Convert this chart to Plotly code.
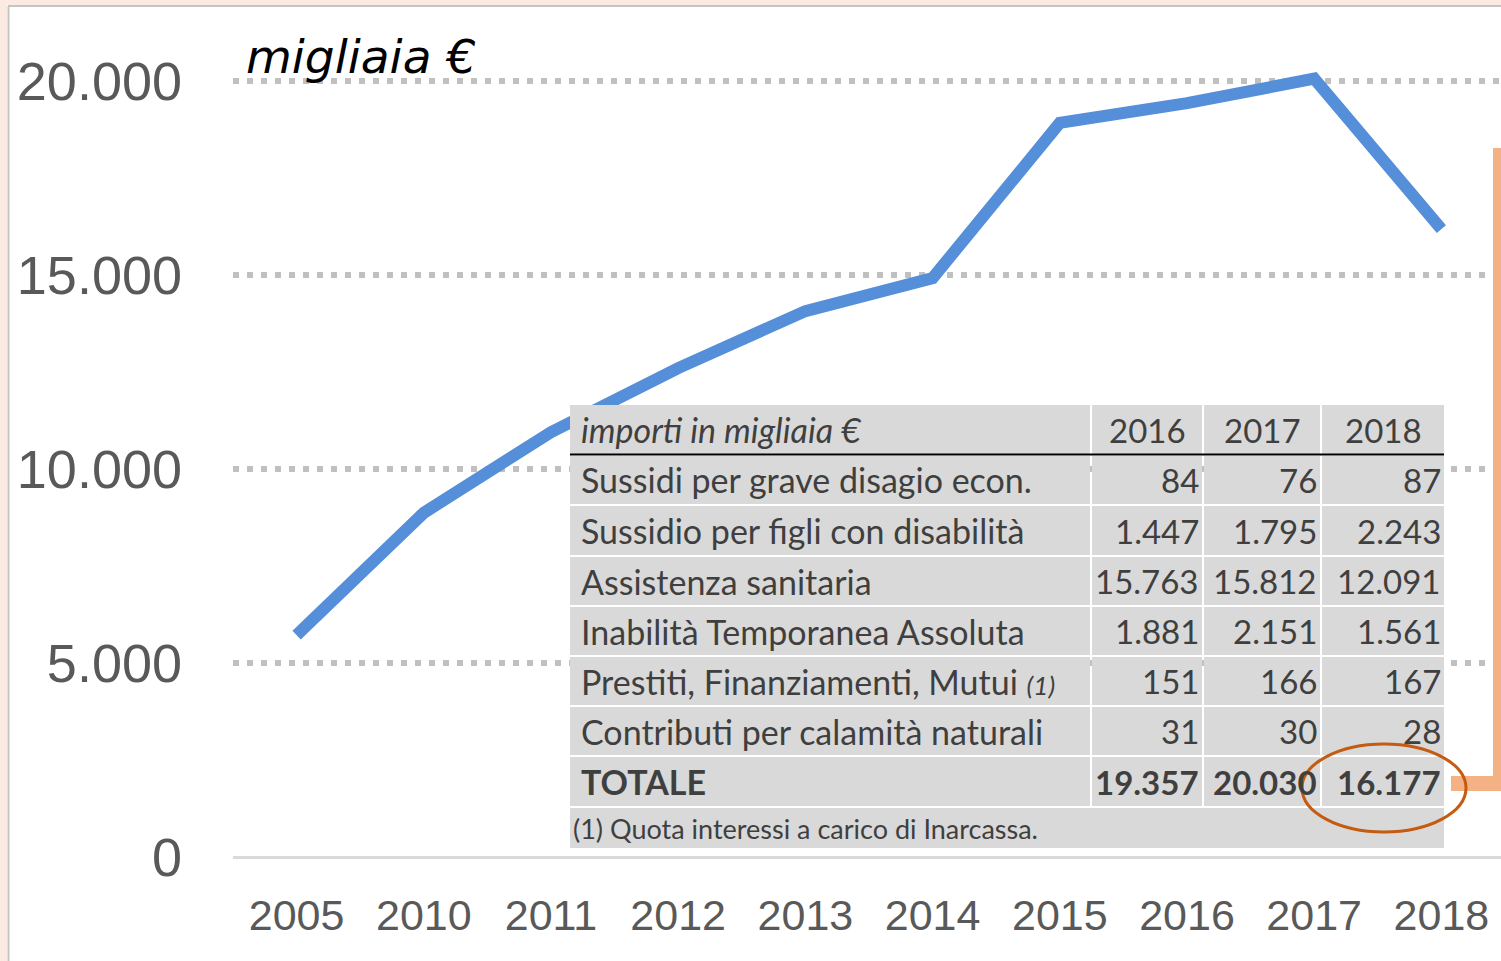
import plotly.graph_objects as go

# ---------------- data ----------------
years = ["2005", "2010", "2011", "2012", "2013", "2014", "2015", "2016", "2017", "2018"]
totals = [5720, 8870, 10950, 12600, 14070, 14920, 18920, 19430, 20060, 16180]

y_ticks = [0, 5000, 10000, 15000, 20000]
y_tick_labels = ["0", "5.000", "10.000", "15.000", "20.000"]

table_title = "importi in migliaia €"
table_years = ["2016", "2017", "2018"]
row_labels = [
    "Sussidi per grave disagio econ.",
    "Sussidio per figli con disabilità",
    "Assistenza sanitaria",
    "Inabilità Temporanea Assoluta",
    "Prestiti, Finanziamenti, Mutui",
    "Contributi per calamità naturali",
    "TOTALE",
]
vals_2016 = [84, 1447, 15763, 1881, 151, 31, 19357]
vals_2017 = [76, 1795, 15812, 2151, 166, 30, 20030]
vals_2018 = [87, 2243, 12091, 1561, 167, 28, 16177]
footnote = "(1) Quota interessi a carico di Inarcassa."

# ---------------- geometry helpers ----------------
W, H = 1501, 961


def px(x):
    return x / W


def py(y):
    return 1 - y / H


def fmt(v):
    return f"{v:,}".replace(",", ".")


fig = go.Figure()
fig.add_trace(go.Scatter(
    x=years, y=totals, mode="lines",
    line=dict(color="#558ED9", width=12),
    hoverinfo="skip", showlegend=False,
))

shapes = []
annotations = []

# outer frame (peach strips + gray border)
shapes.append(dict(type="rect", xref="paper", yref="paper", x0=0, x1=1, y0=py(5), y1=1,
                   fillcolor="#FBEAE1", line_width=0, layer="below"))
shapes.append(dict(type="rect", xref="paper", yref="paper", x0=0, x1=px(7), y0=0, y1=1,
                   fillcolor="#FBEAE1", line_width=0, layer="below"))
shapes.append(dict(type="line", xref="paper", yref="paper", x0=px(8), x1=1, y0=py(6), y1=py(6),
                   line=dict(color="#C4C4C4", width=2), layer="below"))
shapes.append(dict(type="line", xref="paper", yref="paper", x0=px(8.5), x1=px(8.5), y0=0, y1=py(6),
                   line=dict(color="#C4C4C4", width=2), layer="below"))

# table geometry (pixels)
cols = [(570, 1090), (1092, 1202), (1204, 1320), (1322, 1444)]
header_rows = (405, 454)
rows = [(456, 504), (506, 555), (557, 605), (607, 655), (657, 705), (707, 755), (757, 806)]
foot_row = (808, 848)
cell_fill = "#D9D9D9"
txt_col = "#3F3F3F"
tfont = "Lato"
tsize = 34
nsize = 33


def cell(x0, x1, y0, y1):
    shapes.append(dict(type="rect", xref="paper", yref="paper",
                       x0=px(x0), x1=px(x1), y0=py(y1), y1=py(y0),
                       fillcolor=cell_fill, line_width=0, layer="above"))


# header
for (c0, c1) in cols:
    cell(c0, c1, header_rows[0], header_rows[1])
for (r0, r1) in rows:
    for (c0, c1) in cols:
        cell(c0, c1, r0, r1)
cell(570, 1444, foot_row[0], foot_row[1])
# black line under header
shapes.append(dict(type="line", xref="paper", yref="paper", x0=px(570), x1=px(1444),
                   y0=py(454.5), y1=py(454.5), line=dict(color="#000000", width=2), layer="above"))

hy = (header_rows[0] + header_rows[1]) / 2
annotations.append(dict(xref="paper", yref="paper", x=px(579), y=py(hy), xanchor="left", yanchor="middle",
                        text=f"<i>{table_title}</i>", showarrow=False,
                        font=dict(family=tfont, size=tsize, color=txt_col)))
for (c0, c1), yr in zip(cols[1:], table_years):
    annotations.append(dict(xref="paper", yref="paper", x=px((c0 + c1) / 2), y=py(hy),
                            xanchor="center", yanchor="middle", text=yr, showarrow=False,
                            font=dict(family=tfont, size=nsize, color=txt_col)))

for i, ((r0, r1), lab) in enumerate(zip(rows, row_labels)):
    yc = (r0 + r1) / 2
    bold = lab == "TOTALE"
    t = lab
    if lab.startswith("Prestiti"):
        t = lab + " <i><span style='font-size:26px'>(1)</span></i>"
    if bold:
        t = f"<b>{lab}</b>"
    annotations.append(dict(xref="paper", yref="paper", x=px(579), y=py(yc), xanchor="left",
                            yanchor="middle", text=t, showarrow=False,
                            font=dict(family=tfont, size=tsize, color=txt_col)))
    for (c0, c1), series in zip(cols[1:], [vals_2016, vals_2017, vals_2018]):
        s = fmt(series[i])
        if bold:
            s = f"<b>{s}</b>"
        annotations.append(dict(xref="paper", yref="paper", x=px(c1 - 1), y=py(yc), xanchor="right",
                                yanchor="middle", text=s, showarrow=False,
                                font=dict(family=tfont, size=nsize, color=txt_col)))

annotations.append(dict(xref="paper", yref="paper", x=px(571), y=py((foot_row[0] + foot_row[1]) / 2),
                        xanchor="left", yanchor="middle", text=footnote, showarrow=False,
                        font=dict(family=tfont, size=27, color=txt_col)))

# orange bracket
shapes.append(dict(type="line", xref="paper", yref="paper", x0=px(1497), x1=px(1497),
                   y0=py(791), y1=py(148), line=dict(color="#F4B183", width=8), layer="above"))
shapes.append(dict(type="line", xref="paper", yref="paper", x0=px(1451), x1=px(1501),
                   y0=py(783.5), y1=py(783.5), line=dict(color="#F4B183", width=15), layer="above"))
# ellipse around total
shapes.append(dict(type="circle", xref="paper", yref="paper", x0=px(1302), x1=px(1466),
                   y0=py(832), y1=py(744), line=dict(color="#C55A11", width=3), layer="above"))

# unit label
annotations.append(dict(xref="paper", yref="paper", x=px(244), y=py(56), xanchor="left", yanchor="middle",
                        text="<i>migliaia €</i>", showarrow=False,
                        font=dict(family="DejaVu Sans", size=47, color="#000000")))

# axes geometry: value 0 at pixel 857, 5000 per 194 px
y_bottom_px, y_top_px = 857, 10
y_max = 5000 * (y_bottom_px - y_top_px) / 194
x_left_px = 233
slot = 127.2
x_max = -0.5 + (W - x_left_px) / slot

fig.update_layout(
    width=W, height=H,
    margin=dict(l=0, r=0, t=0, b=0),
    paper_bgcolor="#FFFFFF", plot_bgcolor="rgba(0,0,0,0)",
    shapes=shapes, annotations=annotations,
    showlegend=False,
    xaxis=dict(
        domain=[px(x_left_px), 1], range=[-0.5, x_max], type="category",
        showgrid=False, zeroline=False, showline=False, ticks="",
        tickfont=dict(family="Liberation Sans", size=43, color="#595959"),
        ticklabelstandoff=29, automargin=False, fixedrange=True,
    ),
    yaxis=dict(
        domain=[py(y_bottom_px), py(y_top_px)], range=[0, y_max],
        tickvals=y_ticks, ticktext=y_tick_labels,
        showgrid=True, gridcolor="#C0C0C0", gridwidth=6, griddash="6px,8px",
        zeroline=True, zerolinecolor="#D9D9D9", zerolinewidth=3,
        showline=False, ticks="",
        tickfont=dict(family="Liberation Sans", size=54, color="#595959"),
        ticklabelstandoff=50, automargin=False, fixedrange=True,
    ),
)

fig.write_html("out.html", config={"displayModeBar": False},
               post_script="document.body.style.margin='0';document.body.style.overflow='hidden';")
